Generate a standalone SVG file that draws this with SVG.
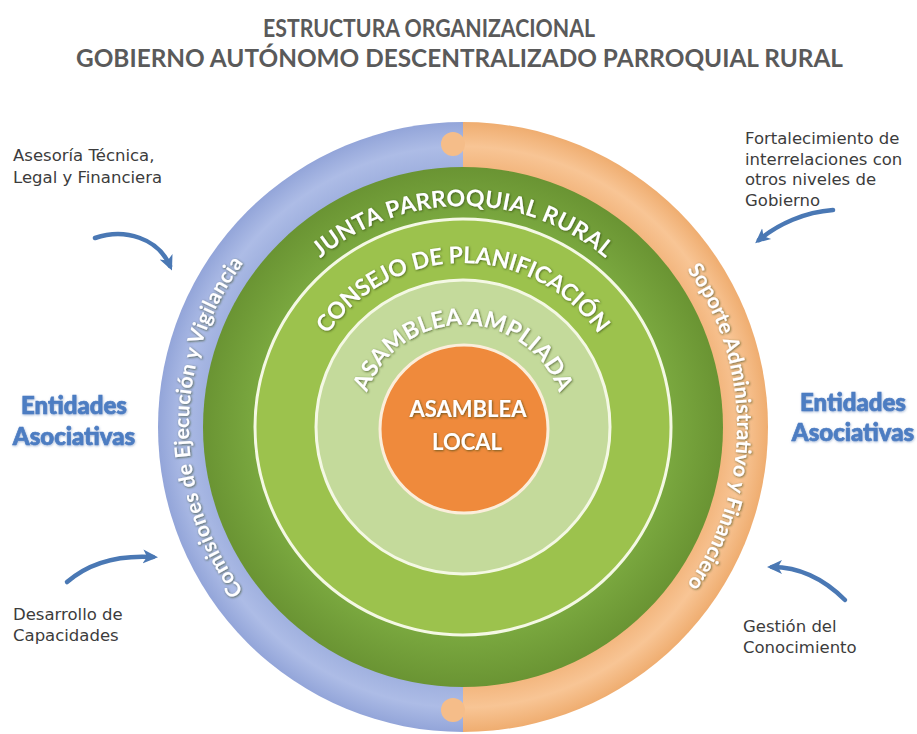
<svg xmlns="http://www.w3.org/2000/svg" width="917" height="734" viewBox="0 0 917 734">
<defs>
<style>
.title{font-family:Lato,"Open Sans","Liberation Sans",sans-serif;font-weight:bold;fill:#5a5a5a;font-size:24px}
.lbl{font-family:"DejaVu Sans",Verdana,sans-serif;font-size:16.5px;fill:#3c3c3c}
.ent{font-family:Lato,"Liberation Sans",sans-serif;font-weight:900;font-size:24px;fill:#4d7dc2;stroke:#4d7dc2;stroke-width:0.7;text-anchor:middle}
.ring{font-family:Lato,"Liberation Sans",sans-serif;font-weight:bold;fill:#ffffff;filter:url(#sh)}
.inner{font-family:Lato,"Open Sans",sans-serif;font-weight:bold;fill:#ffffff;filter:url(#sh)}
.arr{fill:none;stroke:#4a78b4;stroke-width:4.5;stroke-linecap:round;marker-end:url(#ah)}
</style>
<filter id="sh" x="-10%" y="-10%" width="120%" height="120%">
<feDropShadow dx="0.8" dy="0.8" stdDeviation="0.9" flood-color="#2a3a10" flood-opacity="0.7"/>
</filter>
<filter id="glow" x="-10%" y="-20%" width="120%" height="140%">
<feDropShadow dx="0.5" dy="1" stdDeviation="1" flood-color="#6f8fc0" flood-opacity="0.6"/>
</filter>
<marker id="ah" viewBox="0 0 16 16" markerWidth="16" markerHeight="16" refX="10" refY="8" orient="auto" markerUnits="userSpaceOnUse">
<path d="M0,1 L15,8 L0,15 L4,8 Z" fill="#4a78b4"/>
</marker>
<radialGradient id="gBlue" gradientUnits="userSpaceOnUse" cx="463" cy="427" r="305">
<stop offset="0.84" stop-color="#9eafde"/>
<stop offset="0.92" stop-color="#adbce6"/>
<stop offset="1" stop-color="#93a5d9"/>
</radialGradient>
<radialGradient id="gOr" gradientUnits="userSpaceOnUse" cx="463" cy="427" r="305">
<stop offset="0.84" stop-color="#f2b47b"/>
<stop offset="0.92" stop-color="#f8c595"/>
<stop offset="1" stop-color="#efad70"/>
</radialGradient>
<radialGradient id="gDark" gradientUnits="userSpaceOnUse" cx="463" cy="427" r="260">
<stop offset="0.8" stop-color="#7aa83f"/>
<stop offset="1" stop-color="#6a9433"/>
</radialGradient>
<path id="pJunta" d="M242,427 A221,221 0 0 1 684,427"/>
<path id="pConsejo" d="M299,427 A164,164 0 0 1 627,427"/>
<path id="pAmpl" d="M361,427 A102,102 0 0 1 565,427"/>
<path id="pLeft" d="M463,701 A274,274 0 0 1 463,153"/>
<path id="pRight" d="M463,153 A274,274 0 0 1 463,701"/>
</defs>
<rect width="917" height="734" fill="#ffffff"/>

<g id="title">
<text class="title" x="263" y="37" textLength="332" lengthAdjust="spacingAndGlyphs">ESTRUCTURA ORGANIZACIONAL</text>
<text class="title" x="76" y="67" textLength="767" lengthAdjust="spacingAndGlyphs">GOBIERNO AUTÓNOMO DESCENTRALIZADO PARROQUIAL RURAL</text>
</g>

<g id="outer-ring">
<path d="M463,122 A305,305 0 0 0 463,732 Z" fill="url(#gBlue)"/>
<path d="M463,122 A305,305 0 0 1 463,732 Z" fill="url(#gOr)"/>
<circle cx="453" cy="144" r="12" fill="#f5bd89"/>
<circle cx="453" cy="710" r="12" fill="#f5bd89"/>
</g>

<g id="junta">
<circle cx="463" cy="427" r="260" fill="url(#gDark)"/>
<text class="inner" font-size="23"><textPath href="#pJunta" startOffset="50%" text-anchor="middle" textLength="310" lengthAdjust="spacing">JUNTA PARROQUIAL RURAL</textPath></text>
</g>

<g id="consejo">
<circle cx="463" cy="427" r="208" fill="#9cc24d" stroke="#f4f8e4" stroke-width="3"/>
<text class="inner" font-size="23"><textPath href="#pConsejo" startOffset="50%" text-anchor="middle" textLength="318" lengthAdjust="spacing">CONSEJO DE PLANIFICACIÓN</textPath></text>
</g>

<g id="asamblea-ampliada">
<circle cx="463" cy="427" r="147" fill="#c4da9b" stroke="#f4f8e4" stroke-width="3"/>
<text class="inner" font-size="23"><textPath href="#pAmpl" startOffset="50%" text-anchor="middle" textLength="250" lengthAdjust="spacing">ASAMBLEA  AMPLIADA</textPath></text>
</g>

<g id="asamblea-local">
<circle cx="464" cy="429" r="84" fill="#ef8a3c" stroke="#fbeedb" stroke-width="3"/>
<text class="inner" font-size="22" text-anchor="middle" x="468" y="417">ASAMBLEA</text>
<text class="inner" font-size="22" text-anchor="middle" x="467" y="450">LOCAL</text>
</g>

<g id="comisiones">
<text class="ring" font-size="21"><textPath href="#pLeft" startOffset="50%" text-anchor="middle" textLength="352" lengthAdjust="spacing">Comisiones de Ejecución y Vigilancia</textPath></text>
</g>

<g id="soporte">
<text class="ring" font-size="21"><textPath href="#pRight" startOffset="50%" text-anchor="middle" textLength="336" lengthAdjust="spacing">Soporte Administrativo y Financiero</textPath></text>
</g>

<g id="entidades-izq" filter="url(#glow)">
<text class="ent" x="74" y="414">Entidades</text>
<text class="ent" x="74" y="445">Asociativas</text>
</g>
<g id="entidades-der" filter="url(#glow)">
<text class="ent" x="853" y="411">Entidades</text>
<text class="ent" x="853" y="441">Asociativas</text>
</g>

<g id="asesoria">
<text class="lbl" x="13" y="161">Asesoría Técnica,</text>
<text class="lbl" x="13" y="183">Legal y Financiera</text>
</g>
<g id="fortalecimiento">
<text class="lbl" x="745" y="144">Fortalecimiento de</text>
<text class="lbl" x="745" y="165">interrelaciones con</text>
<text class="lbl" x="745" y="185">otros niveles de</text>
<text class="lbl" x="745" y="206">Gobierno</text>
</g>
<g id="desarrollo">
<text class="lbl" x="13" y="620">Desarrollo de</text>
<text class="lbl" x="13" y="641">Capacidades</text>
</g>
<g id="gestion">
<text class="lbl" x="743" y="632">Gestión del</text>
<text class="lbl" x="743" y="653">Conocimiento</text>
</g>

<g id="connectors">
<path class="arr" d="M95,238 C125,228 158,238 170,266"/>
<path class="arr" d="M833,210 C805,212 778,224 759,240"/>
<path class="arr" d="M67,582 C90,562 120,555 153,557"/>
<path class="arr" d="M845,600 C825,580 800,567 772,567"/>
</g>
</svg>
